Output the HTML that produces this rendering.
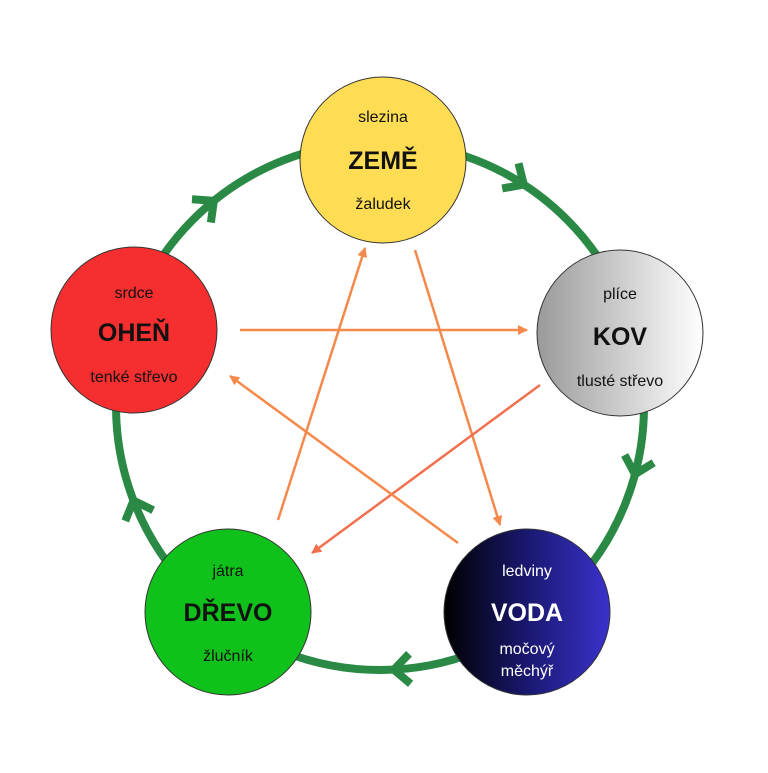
<!DOCTYPE html>
<html><head><meta charset="utf-8"><style>html,body{margin:0;padding:0;background:#fff}</style></head>
<body>
<svg width="768" height="768" viewBox="0 0 768 768" xmlns="http://www.w3.org/2000/svg" font-family="Liberation Sans, sans-serif">
<defs>
<linearGradient id="gk" x1="0" x2="1" y1="0" y2="0"><stop offset="0" stop-color="#9a9a9a"/><stop offset="1" stop-color="#ffffff"/></linearGradient>
<linearGradient id="gv" x1="0" x2="1" y1="0" y2="0"><stop offset="0" stop-color="#000000"/><stop offset="0.5" stop-color="#1a1870"/><stop offset="1" stop-color="#3a32cc"/></linearGradient>
<marker id="ah" markerWidth="10" markerHeight="10" refX="9" refY="5" orient="auto" markerUnits="userSpaceOnUse"><path d="M0,0 L10,5 L0,10 z" fill="#f5894c"/></marker>
<marker id="ah2" markerWidth="10" markerHeight="10" refX="9" refY="5" orient="auto" markerUnits="userSpaceOnUse"><path d="M0,0 L10,5 L0,10 z" fill="#f0704f"/></marker>
</defs>
<circle cx="380" cy="406" r="264" fill="none" stroke="#2a8a45" stroke-width="8"/>
<g stroke="#2a8a45" stroke-width="8" fill="none" stroke-linecap="butt">
<g transform="translate(380,406) rotate(-57) translate(264,0) rotate(90)"><path d="M-16,-15 L0,0 L-16,15"/></g>
<g transform="translate(380,406) rotate(15) translate(264,0) rotate(90)"><path d="M-16,-15 L0,0 L-16,15"/></g>
<g transform="translate(380,406) rotate(87) translate(264,0) rotate(90)"><path d="M-16,-15 L0,0 L-16,15"/></g>
<g transform="translate(380,406) rotate(159) translate(264,0) rotate(90)"><path d="M-16,-15 L0,0 L-16,15"/></g>
<g transform="translate(380,406) rotate(231) translate(264,0) rotate(90)"><path d="M-16,-15 L0,0 L-16,15"/></g>
</g>
<g stroke-width="2.5" fill="none">
<line x1="240" y1="330" x2="527" y2="330" stroke="#f5894c" marker-end="url(#ah)"/>
<line x1="415" y1="250" x2="500" y2="525" stroke="#f5894c" marker-end="url(#ah)"/>
<line x1="540" y1="385" x2="312" y2="553" stroke="#f0704f" marker-end="url(#ah2)"/>
<line x1="458" y1="543" x2="230" y2="376" stroke="#f5894c" marker-end="url(#ah)"/>
<line x1="278" y1="520" x2="365" y2="248" stroke="#f5894c" marker-end="url(#ah)"/>
</g>
<g stroke="#333" stroke-width="1">
<circle cx="383" cy="160" r="83" fill="#fedd55"/>
<circle cx="620" cy="333" r="83" fill="url(#gk)"/>
<circle cx="527" cy="612" r="83" fill="url(#gv)"/>
<circle cx="228" cy="612" r="83" fill="#11c11b"/>
<circle cx="134" cy="330" r="83" fill="#f52f2f"/>
</g>
<g text-anchor="middle" font-size="16" fill="#111">
<text x="383" y="122">slezina</text>
<text x="383" y="169" font-size="25" font-weight="bold">ZEMĚ</text>
<text x="383" y="209">žaludek</text>
<text x="620" y="299">plíce</text>
<text x="620" y="345" font-size="25" font-weight="bold">KOV</text>
<text x="620" y="386">tlusté střevo</text>
<text x="228" y="576">játra</text>
<text x="228" y="621" font-size="25" font-weight="bold">DŘEVO</text>
<text x="228" y="661">žlučník</text>
<text x="134" y="298">srdce</text>
<text x="134" y="341" font-size="25" font-weight="bold">OHEŇ</text>
<text x="134" y="382">tenké střevo</text>
</g>
<g text-anchor="middle" font-size="16" fill="#fff">
<text x="527" y="576">ledviny</text>
<text x="527" y="621" font-size="25" font-weight="bold">VODA</text>
<text x="527" y="654">močový</text>
<text x="527" y="676">měchýř</text>
</g>
</svg>
</body></html>
